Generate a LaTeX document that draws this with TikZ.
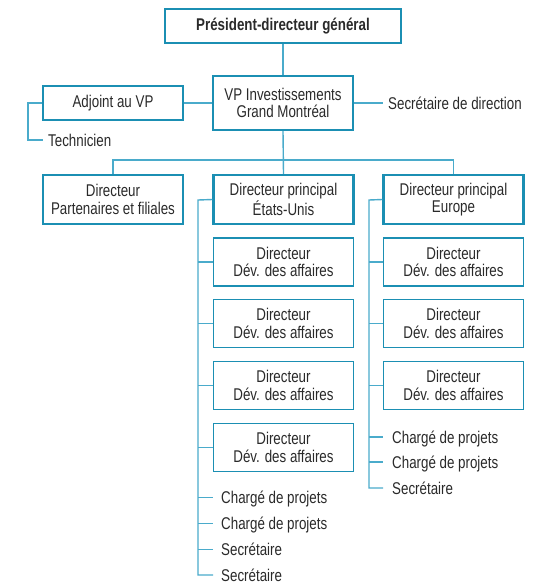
\documentclass[tikz,border=0pt]{standalone}
\usepackage{fontspec}
\setmainfont{Liberation Sans}[FakeStretch=0.785]
\usepackage{xcolor}
\definecolor{orgblue}{HTML}{1B8FB3}
\definecolor{orglight}{HTML}{4AABCB}
\definecolor{orgtext}{HTML}{2A2A2A}
\tikzset{
  chefbox/.style={draw=orgblue, line width=2.2pt, minimum width=140pt, minimum height=49pt,
    inner sep=0pt, align=center, text=orgtext, font=\fontsize{17}{17.3}\selectfont},
  subbox/.style={chefbox, line width=1.3pt, minimum height=48pt},
  poste/.style={inner sep=0pt, anchor=west, text height=12pt, text depth=0pt, text=orgtext,
    font=\fontsize{17}{17.3}\selectfont},
  lien/.style={draw=orglight, line width=1.4pt}
}
\begin{document}
\begin{tikzpicture}[x=1pt, y=1pt]
\useasboundingbox (0,0) rectangle (542,-584);
% direction
\node[chefbox, minimum width=236pt, minimum height=34pt, font=\fontsize{17}{17.3}\selectfont\bfseries] (pdg) at (283,-26) {Président-directeur général};
\node[chefbox, minimum height=54pt] (vp) at (283,-103) {VP Investissements\\Grand Montréal};
\node[subbox, minimum height=34pt] (adj) at (113,-103) {Adjoint au VP};
\node[poste] (tech) at (48,-140) {Technicien};
\node[poste] (secdir) at (388,-103) {Secrétaire de direction};
\draw[lien] (pdg.south) -- (vp.north);
\draw[lien] (adj.east) -- (vp.west);
\draw[lien] (vp.east) -- ([xshift=-5pt]secdir.west);
\draw[lien] (adj.west) -- (28,-103) |- ([xshift=-5pt]tech.west);

% directeurs
\node[chefbox] (part) at (113,-199.5) {Directeur\\Partenaires et filiales};
\node[chefbox] (usa) at (283.5,-199.5) {Directeur principal\\États-Unis};
\node[chefbox] (eur) at (453.5,-199.5) {Directeur principal\\Europe};
\coordinate (bus) at (283,-160);
\draw[lien] (vp.south) -- (usa.north);
\draw[lien] (part.north) -- (part.north |- bus) -| (eur.north);

% États-Unis
\foreach \i/\y in {1/262, 2/323.5, 3/385.5, 4/447.5}
  \node[subbox] (usa\i) at (283.5,-\y) {Directeur\\Dév. des affaires};
\node[poste] (usaA) at (221,-497.5) {Chargé de projets};
\node[poste] (usaB) at (221,-523.5) {Chargé de projets};
\node[poste] (usaC) at (221,-549.5) {Secrétaire};
\node[poste] (usaD) at (221,-575) {Secrétaire};
\coordinate (spineU) at (198,-200);
\draw[lien] (usa.west) -- (spineU) |- ([xshift=-8pt]usaD.west);
\foreach \n in {usa1, usa2, usa3, usa4}
  \draw[lien] (spineU |- \n.west) -- (\n.west);
\foreach \n in {usaA, usaB, usaC}
  \draw[lien] (spineU |- \n.west) -- ([xshift=-8pt]\n.west);

% Europe
\foreach \i/\y in {1/262, 2/323.5, 3/385.5}
  \node[subbox] (eur\i) at (453.5,-\y) {Directeur\\Dév. des affaires};
\node[poste] (eurA) at (392,-437) {Chargé de projets};
\node[poste] (eurB) at (392,-462) {Chargé de projets};
\node[poste] (eurC) at (392,-488) {Secrétaire};
\coordinate (spineE) at (369,-200);
\draw[lien] (eur.west) -- (spineE) |- ([xshift=-9pt]eurC.west);
\foreach \n in {eur1, eur2, eur3}
  \draw[lien] (spineE |- \n.west) -- (\n.west);
\foreach \n in {eurA, eurB}
  \draw[lien] (spineE |- \n.west) -- ([xshift=-9pt]\n.west);
\end{tikzpicture}
\end{document}
